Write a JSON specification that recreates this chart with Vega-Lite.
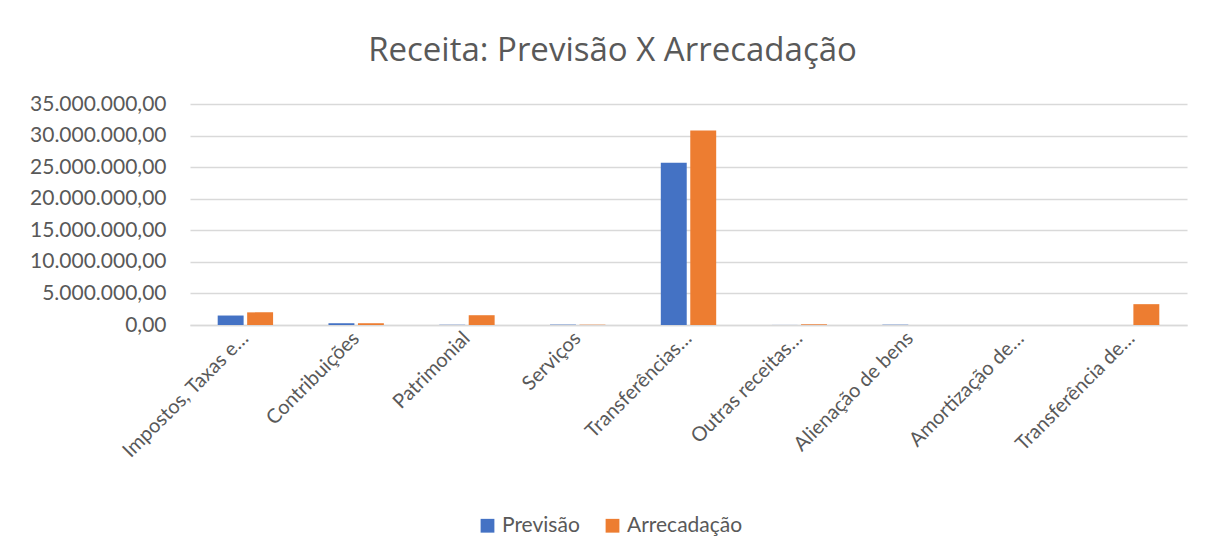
{
  "$schema": "https://vega.github.io/schema/vega-lite/v6.json",
  "width": 997,
  "height": 221,
  "autosize": "none",
  "padding": {"left": 190, "top": 104, "right": 26, "bottom": 234},
  "background": "white",
  "config": {
    "locale": {"number": {"decimal": ",", "thousands": ".", "grouping": [3], "currency": ["R$", ""]}},
    "view": {"stroke": null},
    "font": "Lato"
  },
  "title": {
    "text": "Receita: Previsão X Arrecadação",
    "fontSize": 33,
    "font": "Open Sans",
    "fontWeight": "normal",
    "color": "#595959",
    "anchor": "middle",
    "dx": -76,
    "offset": 25
  },
  "data": {
    "values": [
      {"cat": "Impostos, Taxas e…", "serie": "Previsão", "valor": 1500000},
      {"cat": "Impostos, Taxas e…", "serie": "Arrecadação", "valor": 2000000},
      {"cat": "Contribuições", "serie": "Previsão", "valor": 280000},
      {"cat": "Contribuições", "serie": "Arrecadação", "valor": 280000},
      {"cat": "Patrimonial", "serie": "Previsão", "valor": 50000},
      {"cat": "Patrimonial", "serie": "Arrecadação", "valor": 1550000},
      {"cat": "Serviços", "serie": "Previsão", "valor": 60000},
      {"cat": "Serviços", "serie": "Arrecadação", "valor": 50000},
      {"cat": "Transferências…", "serie": "Previsão", "valor": 25700000},
      {"cat": "Transferências…", "serie": "Arrecadação", "valor": 30800000},
      {"cat": "Outras receitas…", "serie": "Previsão", "valor": 10000},
      {"cat": "Outras receitas…", "serie": "Arrecadação", "valor": 110000},
      {"cat": "Alienação de bens", "serie": "Previsão", "valor": 50000},
      {"cat": "Alienação de bens", "serie": "Arrecadação", "valor": 0},
      {"cat": "Amortização de…", "serie": "Previsão", "valor": 0},
      {"cat": "Amortização de…", "serie": "Arrecadação", "valor": 0},
      {"cat": "Transferência de…", "serie": "Previsão", "valor": 0},
      {"cat": "Transferência de…", "serie": "Arrecadação", "valor": 3300000}
    ]
  },
  "mark": {"type": "bar"},
  "encoding": {
    "x": {
      "field": "cat",
      "type": "nominal",
      "sort": null,
      "title": null,
      "scale": {"paddingInner": 0.5, "paddingOuter": 0.25},
      "axis": {
        "labelAngle": -45,
        "labelAlign": "right",
        "labelBaseline": "middle",
        "labelFontSize": 20,
        "labelColor": "#595959",
        "labelPadding": 10,
        "ticks": false,
        "domainColor": "#d9d9d9",
        "domainWidth": 1.5,
        "labelLimit": 300
      }
    },
    "xOffset": {"field": "serie", "type": "nominal", "sort": ["Previsão", "Arrecadação"], "scale": {"paddingInner": 0.12}},
    "y": {
      "field": "valor",
      "type": "quantitative",
      "title": null,
      "scale": {"domain": [0, 35000000], "nice": false},
      "axis": {
        "format": ",.2f",
        "values": [0, 5000000, 10000000, 15000000, 20000000, 25000000, 30000000, 35000000],
        "labelFontSize": 21,
        "labelColor": "#595959",
        "labelPadding": 24,
        "ticks": false,
        "domain": false,
        "gridColor": "#d9d9d9",
        "gridWidth": 1.5
      }
    },
    "color": {
      "field": "serie",
      "type": "nominal",
      "sort": ["Previsão", "Arrecadação"],
      "scale": {"domain": ["Previsão", "Arrecadação"], "range": ["#4472C4", "#ED7D31"]},
      "legend": {
        "title": null,
        "orient": "none",
        "direction": "horizontal",
        "legendX": 287,
        "legendY": 411,
        "symbolType": "square",
        "symbolSize": 190,
        "symbolStrokeWidth": 0,
        "labelFontSize": 21,
        "labelColor": "#595959",
        "columnPadding": 22,
        "labelOffset": 4
      }
    }
  }
}
